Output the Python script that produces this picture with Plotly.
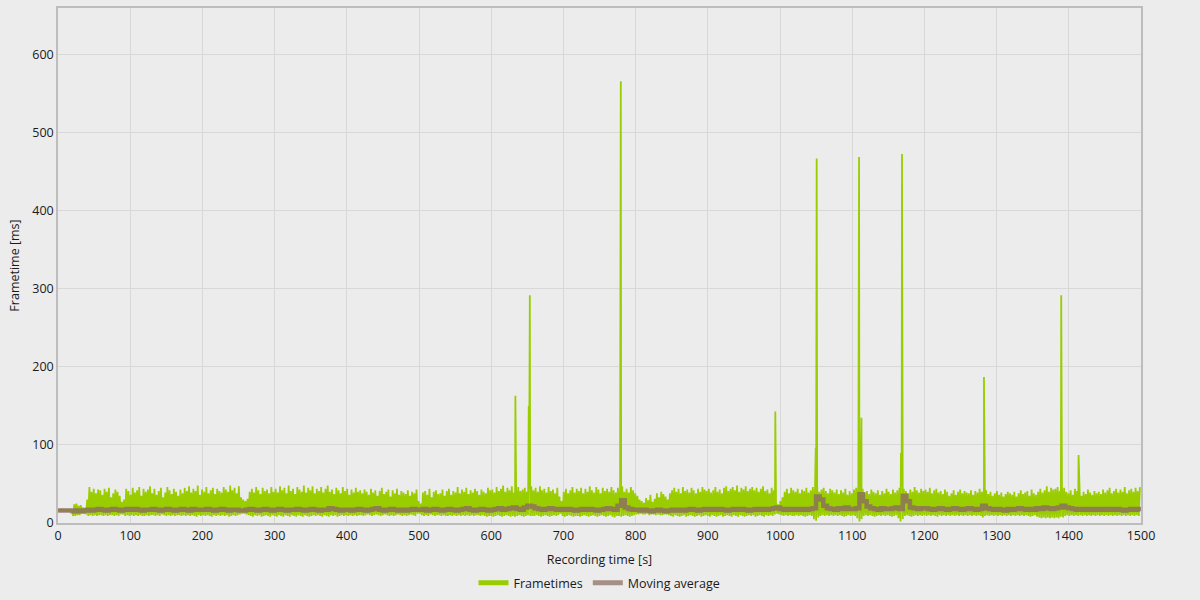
import plotly.graph_objects as go

# frametime samples, 3 s bins: upper and lower edge of the band [ms]
bin_s = 3
hi_ms = [
    17, 18, 17, 18, 17, 18, 17, 24, 25, 22, 23, 20, 19, 30, 46, 40, 44, 38, 43, 42,
    36, 44, 40, 45, 33, 38, 43, 40, 35, 27, 30, 44, 41, 36, 45, 39, 42, 46, 35, 44,
    40, 43, 47, 38, 44, 36, 41, 45, 33, 39, 46, 42, 37, 44, 40, 35, 43, 38, 45, 41,
    47, 39, 44, 41, 48, 36, 43, 40, 46, 38, 42, 45, 37, 44, 41, 39, 46, 43, 40, 48,
    42, 45, 38, 47, 33, 30, 28, 31, 40, 44, 39, 46, 42, 37, 45, 41, 43, 38, 46, 40,
    44, 39, 47, 42, 45, 38, 48, 41, 44, 37, 46, 43, 40, 48, 39, 45, 42, 47, 38, 44,
    41, 46, 39, 44, 48, 40, 43, 37, 45, 42, 38, 46, 41, 44, 36, 43, 39, 45, 40, 42,
    38, 43, 40, 36, 44, 39, 42, 35, 41, 45, 37, 40, 43, 34, 42, 38, 44, 36, 41, 39,
    37, 42, 35, 40, 38, 43, 28, 25, 39, 41, 36, 44, 33, 40, 42, 37, 38, 43, 35, 41,
    44, 36, 41, 39, 46, 38, 43, 40, 45, 37, 42, 39, 44, 41, 36, 43, 40, 38, 45, 42,
    43, 39, 46, 41, 44, 48, 40, 45, 42, 47, 39, 44, 46, 41, 43, 45, 40, 44, 47, 42,
    45, 40, 47, 42, 44, 39, 46, 41, 43, 38, 45, 34, 28, 40, 44, 38, 42, 46, 39, 44,
    41, 45, 38, 44, 40, 47, 42, 39, 46, 43, 38, 45, 41, 44, 40, 46, 42, 39, 45, 43,
    47, 40, 44, 39, 46, 42, 38, 35, 30, 28, 26, 32, 29, 36, 27, 31, 38, 33, 40, 37,
    34, 30, 38, 42, 45, 40, 44, 38, 46, 41, 43, 39, 45, 42, 38, 44, 40, 46, 43, 41,
    44, 39, 42, 46, 40, 43, 38, 45, 47, 41, 44, 46, 42, 48, 40, 45, 43, 47, 41, 44,
    46, 42, 45, 40, 44, 47, 41, 43, 38, 45, 42, 26, 24, 28, 33, 40, 44, 38, 45, 42,
    40, 44, 38, 43, 41, 45, 39, 42, 46, 44, 48, 40, 43, 45, 41, 38, 44, 42, 39, 43,
    37, 42, 39, 44, 36, 41, 38, 43, 45, 48, 42, 44, 39, 41, 37, 43, 40, 38, 42, 36,
    41, 38, 44, 40, 37, 43, 39, 42, 45, 47, 44, 41, 38, 43, 40, 46, 42, 39, 44, 41,
    43, 40, 45, 38, 42, 44, 39, 41, 37, 43, 40, 35, 38, 42, 36, 40, 43, 38, 41, 39,
    38, 42, 36, 41, 39, 44, 40, 46, 42, 37, 40, 35, 38, 41, 36, 39, 34, 37, 40, 38,
    36, 40, 34, 38, 42, 37, 39, 41, 35, 43, 38, 36, 40, 44, 39, 42, 47, 40, 45, 43,
    44, 46, 41, 47, 45, 40, 38, 42, 36, 44, 41, 38, 35, 40, 37, 43, 39, 36, 41, 38,
    40, 37, 43, 39, 42, 45, 38, 41, 44, 39, 43, 40, 46, 38, 42, 44, 40, 45, 41, 46,
]
lo_ms = [
    15, 15, 15, 15, 15, 15, 15, 9, 9, 10, 10, 12, 12, 11, 9, 10, 9, 10, 9, 10,
    10, 9, 10, 9, 10, 10, 9, 10, 9, 11, 11, 9, 10, 9, 10, 9, 10, 9, 10, 9,
    9, 10, 9, 10, 10, 9, 10, 9, 11, 10, 9, 10, 9, 10, 9, 10, 10, 9, 10, 9,
    10, 9, 10, 9, 8, 10, 9, 10, 9, 10, 9, 8, 10, 9, 10, 9, 10, 9, 10, 8,
    9, 10, 9, 10, 11, 12, 12, 11, 10, 9, 8, 10, 9, 10, 8, 9, 10, 9, 8, 10,
    9, 8, 10, 9, 8, 10, 9, 8, 10, 9, 8, 10, 9, 8, 10, 9, 8, 9, 10, 9,
    10, 9, 8, 10, 9, 8, 10, 9, 10, 8, 9, 10, 9, 10, 9, 10, 9, 10, 9, 10,
    10, 9, 10, 11, 10, 9, 10, 11, 10, 9, 10, 11, 10, 9, 10, 9, 10, 11, 10, 9,
    10, 9, 10, 11, 10, 9, 12, 12, 10, 9, 10, 9, 11, 10, 9, 10, 10, 9, 10, 9,
    9, 10, 9, 10, 9, 10, 9, 10, 9, 10, 9, 10, 9, 10, 10, 9, 10, 9, 8, 9,
    9, 8, 9, 10, 9, 8, 9, 10, 9, 8, 9, 8, 9, 10, 9, 8, 9, 10, 9, 9,
    9, 10, 9, 8, 9, 10, 9, 8, 9, 10, 9, 10, 12, 9, 8, 9, 10, 9, 8, 9,
    9, 8, 9, 10, 9, 8, 9, 10, 9, 8, 9, 10, 9, 8, 9, 10, 8, 7, 9, 9,
    8, 9, 10, 9, 8, 9, 10, 11, 11, 12, 11, 11, 12, 10, 11, 11, 10, 11, 10, 10,
    11, 11, 10, 9, 8, 10, 9, 8, 9, 10, 8, 9, 10, 9, 8, 9, 10, 8, 9, 10,
    9, 8, 10, 9, 8, 9, 10, 8, 9, 10, 9, 8, 10, 9, 8, 10, 9, 8, 9, 10,
    9, 10, 8, 9, 10, 9, 8, 10, 9, 10, 9, 11, 12, 11, 10, 9, 10, 9, 10, 9,
    9, 10, 9, 10, 9, 8, 9, 10, 9, 5, 3, 7, 9, 10, 9, 10, 9, 10, 9, 10,
    9, 10, 9, 8, 9, 10, 9, 10, 9, 6, 2, 5, 9, 10, 9, 10, 9, 8, 9, 10,
    9, 10, 9, 10, 9, 8, 9, 10, 6, 2, 5, 9, 10, 9, 8, 9, 10, 9, 10, 9,
    10, 9, 10, 9, 10, 9, 8, 10, 9, 10, 9, 10, 9, 10, 9, 10, 9, 10, 9, 10,
    9, 10, 9, 10, 9, 10, 9, 7, 9, 10, 9, 10, 9, 10, 9, 10, 9, 10, 9, 10,
    9, 10, 9, 10, 9, 10, 9, 10, 9, 8, 9, 10, 8, 7, 6, 7, 6, 7, 6, 7,
    6, 7, 6, 8, 7, 9, 10, 9, 10, 9, 10, 9, 10, 9, 10, 9, 10, 9, 10, 9,
    10, 9, 10, 9, 10, 9, 10, 9, 10, 9, 10, 9, 10, 9, 10, 9, 10, 9, 10, 9,
]

# single long frames (stutters)
spike_t = [633.5, 652.0, 653.5, 778.5, 779.5, 993.5, 1049.5, 1050.8,
           1108.5, 1109.5, 1112.8, 1167.5, 1169.0, 1282.5, 1389.5, 1413.5]
spike_ms = [163, 150, 292, 199, 566, 143, 96, 467,
            288, 469, 135, 90, 473, 187, 292, 87]

# moving average, 5 s steps
ma_step = 5
ma_ms = [
    16, 16, 16, 16, 15, 16, 15, 16, 17, 16, 17, 18, 17, 16, 17, 18, 17, 16, 17, 18,
    17, 18, 17, 16, 17, 17, 18, 17, 16, 17, 18, 17, 16, 17, 18, 17, 16, 18, 17, 17,
    17, 18, 17, 16, 17, 18, 17, 16, 17, 17, 16, 16, 17, 18, 17, 16, 17, 18, 17, 16,
    17, 18, 17, 16, 17, 17, 18, 17, 16, 17, 18, 17, 16, 17, 17, 19, 18, 17, 16, 17,
    17, 16, 17, 18, 17, 16, 17, 18, 19, 17, 16, 17, 18, 17, 16, 17, 16, 17, 18, 17,
    17, 18, 16, 17, 18, 17, 16, 17, 18, 17, 16, 17, 18, 19, 17, 16, 17, 18, 17, 16,
    17, 18, 19, 17, 18, 19, 20, 18, 17, 20, 22, 21, 19, 18, 17, 18, 19, 18, 17, 18,
    17, 18, 17, 16, 17, 18, 17, 18, 17, 16, 17, 18, 19, 18, 17, 22, 29, 20, 18, 17,
    17, 16, 17, 16, 15, 16, 17, 16, 15, 16, 17, 16, 17, 16, 17, 18, 17, 16, 17, 18,
    17, 18, 17, 18, 17, 16, 17, 18, 17, 18, 17, 16, 17, 18, 17, 18, 17, 18, 19, 20,
    18, 17, 18, 17, 18, 17, 18, 17, 18, 19, 34, 30, 22, 19, 18, 17, 19, 18, 20, 18,
    18, 19, 37, 28, 21, 19, 18, 17, 19, 18, 18, 19, 20, 18, 35, 28, 20, 19, 18, 19,
    19, 18, 17, 18, 19, 18, 17, 18, 19, 18, 17, 18, 19, 18, 17, 18, 22, 19, 18, 17,
    18, 17, 16, 18, 17, 18, 19, 18, 17, 18, 17, 19, 18, 20, 19, 18, 19, 20, 22, 20,
    19, 18, 17, 18, 17, 18, 17, 18, 17, 18, 17, 18, 17, 18, 17, 16, 17, 18, 17, 18,
]

# build the frametime path: trough, peak, trough ... with stutters merged in
pts = []
for i, (lo, hi) in enumerate(zip(lo_ms, hi_ms)):
    pts.append((i * bin_s, lo))
    pts.append((i * bin_s + bin_s / 2, hi))
pts += list(zip(spike_t, spike_ms))
pts.sort(key=lambda p: p[0])
ft_x = [p[0] for p in pts]
ft_y = [p[1] for p in pts]

ma_x = [i * ma_step for i in range(len(ma_ms))] + [1500]
ma_y = ma_ms + [ma_ms[-1]]

green = '#9acd00'
ma_col = 'rgba(140,108,99,0.8)'
ma_legend = '#a58f86'
font = 'Open Sans, Noto Sans, sans-serif'
fsize = 12.5

fig = go.Figure()
fig.add_trace(go.Scatter(x=ft_x, y=ft_y, mode='lines', showlegend=False,
                         line=dict(color=green, width=1.8)))
fig.add_trace(go.Scatter(x=ma_x, y=ma_y, mode='lines', showlegend=False,
                         line=dict(color=ma_col, width=4.5, shape='hv')))
# legend keys
fig.add_trace(go.Scatter(x=[None], y=[None], mode='lines', name='Frametimes',
                         line=dict(color=green, width=5)))
fig.add_trace(go.Scatter(x=[None], y=[None], mode='lines', name='Moving average',
                         line=dict(color=ma_legend, width=5)))

fig.update_layout(
    width=1200, height=600,
    margin=dict(l=58, r=59, t=8, b=77, autoexpand=False),
    paper_bgcolor='#ececec', plot_bgcolor='#ececec',
    font=dict(family=font, size=fsize, color='#1a1a1a'),
    showlegend=True,
    legend=dict(orientation='h', x=0.5, xanchor='center',
                yref='container', y=0.028, yanchor='middle',
                font=dict(size=fsize), itemwidth=30,
                bgcolor='rgba(0,0,0,0)'),
)
fig.update_xaxes(
    range=[0, 1500], dtick=100, tick0=0, automargin=False,
    showgrid=True, gridcolor='#d8d8d8', gridwidth=1,
    showline=True, linecolor='#bdbdbd', linewidth=1.5, mirror=True,
    zeroline=False, ticks='', tickfont=dict(size=fsize),
    title=dict(text='Recording time [s]', standoff=12, font=dict(size=fsize)),
)
fig.update_yaxes(
    range=[0, 660], dtick=100, tick0=0, automargin=False,
    showgrid=True, gridcolor='#d8d8d8', gridwidth=1,
    showline=True, linecolor='#bdbdbd', linewidth=1.5, mirror=True,
    zeroline=False, ticks='', tickfont=dict(size=fsize),
    title=dict(text='Frametime [ms]', standoff=10, font=dict(size=fsize)),
)

fig.write_html('out.html', config={'displayModeBar': False},
               post_script="document.body.style.margin='0';"
                           "document.body.style.background='#ececec';")
